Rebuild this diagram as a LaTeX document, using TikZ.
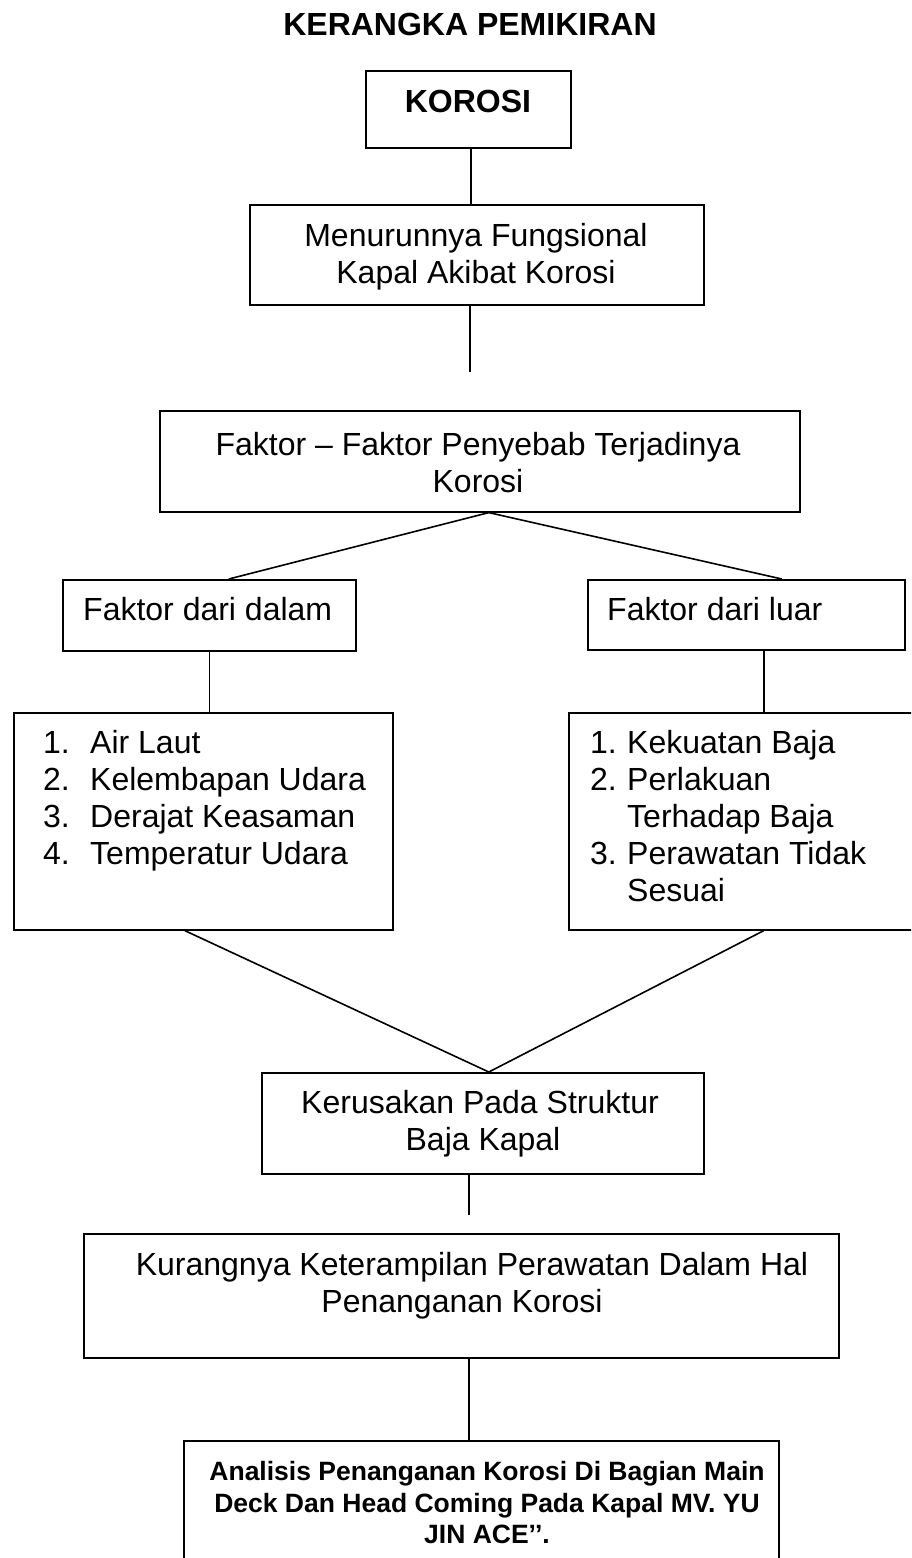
\documentclass[tikz,border=0pt]{standalone}
\usepackage{fontspec}
\setmainfont{Liberation Sans}
\begin{document}
\begin{tikzpicture}[x=1pt,y=-1pt,
  box/.style={draw, line width=1.6pt, inner sep=0pt, anchor=north west},
  conn/.style={line width=1.6pt},
  txt/.style={inner sep=0pt, anchor=base, font=\fontsize{32}{37}\selectfont},
  txtl/.style={txt, anchor=base west},
  btxt/.style={inner sep=0pt, anchor=base, font=\fontsize{32}{37}\selectfont\bfseries},
  stxt/.style={inner sep=0pt, anchor=base, font=\fontsize{26.5}{31}\selectfont\bfseries}]
\clip (0,0) rectangle (911,1558);
\fill[white] (0,0) rectangle (911,1558);

% title
\node[btxt] (title) at (470,35) {KERANGKA PEMIKIRAN};

% boxes
\node[box, minimum width=205pt, minimum height=77pt] (korosi) at (365,70) {};
\node[box, minimum width=454pt, minimum height=100pt] (menu) at (249,204) {};
\node[box, minimum width=640pt, minimum height=101pt] (faktor) at (159,410) {};
\node[box, minimum width=293pt, minimum height=71pt] (dalam) at (62,579) {};
\node[box, minimum width=317pt, minimum height=70pt] (luar) at (587,579) {};
\node[box, minimum width=379pt, minimum height=217pt] (llist) at (13,712) {};
\node[box, minimum width=357pt, minimum height=217pt] (rlist) at (568,712) {};
\node[box, minimum width=442pt, minimum height=101pt] (kerus) at (261,1072) {};
\node[box, minimum width=755pt, minimum height=124pt] (kurang) at (83,1233) {};
\node[box, minimum width=595pt, minimum height=200pt] (anal) at (183,1440) {};

% texts
\node[btxt] (tkorosi) at (468,112) {KOROSI};
\node[txt] (tmenu1) at (476,246) {Menurunnya Fungsional};
\node[txt] (tmenu2) at (476,283) {Kapal Akibat Korosi};
\node[txt] (tfak1) at (478,455) {Faktor – Faktor Penyebab Terjadinya};
\node[txt] (tfak2) at (478,492) {Korosi};
\node[txtl] (tdalam) at (83,620) {Faktor dari dalam};
\node[txtl] (tluar) at (607,620) {Faktor dari luar};

\node[txtl] (ln1) at (43,753) {1.};
\node[txtl] (lt1) at (90,753) {Air Laut};
\node[txtl] (ln2) at (43,790) {2.};
\node[txtl] (lt2) at (90,790) {Kelembapan Udara};
\node[txtl] (ln3) at (43,827) {3.};
\node[txtl] (lt3) at (90,827) {Derajat Keasaman};
\node[txtl] (ln4) at (43,864) {4.};
\node[txtl] (lt4) at (90,864) {Temperatur Udara};

\node[txtl] (rn1) at (590,753) {1.};
\node[txtl] (rt1) at (627,753) {Kekuatan Baja};
\node[txtl] (rn2) at (590,790) {2.};
\node[txtl] (rt2) at (627,790) {Perlakuan};
\node[txtl] (rt2b) at (627,827) {Terhadap Baja};
\node[txtl] (rn3) at (590,864) {3.};
\node[txtl] (rt3) at (627,864) {Perawatan Tidak};
\node[txtl] (rt3b) at (627,901) {Sesuai};

\node[txt] (tker1) at (480,1113) {Kerusakan Pada Struktur};
\node[txt] (tker2) at (483,1150) {Baja Kapal};
\node[txt] (tkur1) at (472,1275) {Kurangnya Keterampilan Perawatan Dalam Hal};
\node[txt] (tkur2) at (462,1312) {Penanganan Korosi};
\node[stxt] (tan1) at (487,1480) {Analisis Penanganan Korosi Di Bagian Main};
\node[stxt] (tan2) at (487,1512) {Deck Dan Head Coming Pada Kapal MV. YU};
\node[stxt] (tan3) at (487,1543) {JIN ACE’’.};

% connectors
\coordinate (e1) at (470,372);
\coordinate (e2) at (469,1215);
\draw[conn] ([xshift=2.5pt]korosi.south) -- ([xshift=2.5pt]korosi.south |- menu.north);
\draw[conn] (e1 |- menu.south) -- (e1);
\draw[conn] ([xshift=9pt]faktor.south) -- ([xshift=19.5pt]dalam.north);
\draw[conn] ([xshift=9pt]faktor.south) -- ([xshift=35.5pt]luar.north);
\draw[conn] (dalam.south) -- (dalam.south |- llist.north);
\draw[conn] ([xshift=17.5pt]luar.south) -- ([xshift=17.5pt]luar.south |- rlist.north);
\draw[conn] ([xshift=-18.5pt]llist.south) -- ([xshift=6pt]kerus.north);
\draw[conn] ([xshift=16.5pt]rlist.south) -- ([xshift=6pt]kerus.north);
\draw[conn] (e2 |- kerus.south) -- (e2);
\draw[conn] ([xshift=7.5pt]kurang.south) -- ([xshift=7.5pt]kurang.south |- anal.north);
\end{tikzpicture}
\end{document}
